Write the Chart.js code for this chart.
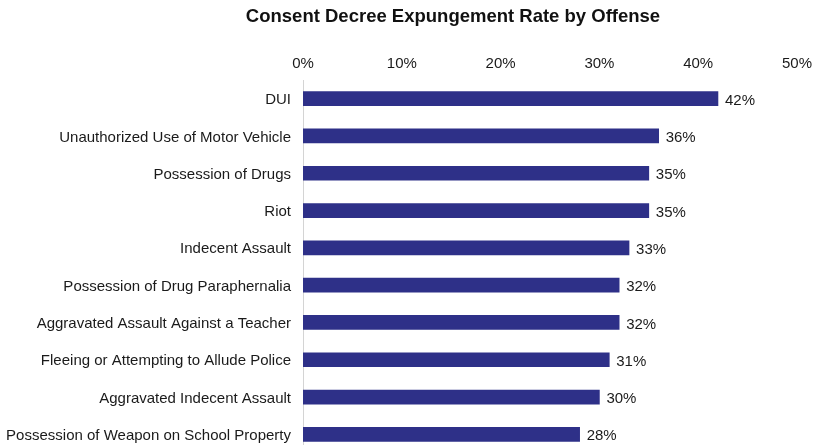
<!DOCTYPE html>
<html>
<head>
<meta charset="utf-8">
<script src="https://cdn.jsdelivr.net/npm/chart.js@4/dist/chart.umd.min.js"></script>
<style>
  html, body { margin: 0; padding: 0; background: #fff; overflow: hidden; }
  #c { display: block; }
</style>
</head>
<body>
<canvas id="c" width="814" height="460"></canvas>
<script>
// Offense categories, top to bottom
const offenses = [
  "DUI",
  "Unauthorized Use of Motor Vehicle",
  "Possession of Drugs",
  "Riot",
  "Indecent Assault",
  "Possession of Drug Paraphernalia",
  "Aggravated Assault Against a Teacher",
  "Fleeing or Attempting to Allude Police",
  "Aggravated Indecent Assault",
  "Possession of Weapon on School Property"
];
// Expungement rate (%) per offense
const expungementRate = [42, 36, 35, 35, 33, 32, 32, 31, 30, 28];
// Axis ticks (%)
const rateTicks = [0, 10, 20, 30, 40, 50];

const chartTitle = "Consent Decree Expungement Rate by Offense";
const FONT = "'Liberation Sans', Arial, sans-serif";

// Title drawn centred over the chart
const titlePlugin = {
  id: 'titleText',
  afterDraw(chart) {
    const ctx = chart.ctx;
    ctx.save();
    ctx.font = "bold 18.5px " + FONT;
    ctx.fillStyle = "#111";
    ctx.textAlign = "center";
    ctx.textBaseline = "middle";
    ctx.fillText(chartTitle, 453, 17);
    ctx.restore();
  }
};

// Percentage labels just past the end of each bar
const valueLabels = {
  id: 'valueLabels',
  afterDatasetsDraw(chart) {
    const ctx = chart.ctx;
    const meta = chart.getDatasetMeta(0);
    ctx.save();
    ctx.font = "15px " + FONT;
    ctx.fillStyle = "#1a1a1a";
    ctx.textAlign = "left";
    ctx.textBaseline = "middle";
    meta.data.forEach((bar, i) => {
      ctx.fillText(expungementRate[i] + "%", bar.x + 7, bar.y + 2);
    });
    ctx.restore();
  }
};

new Chart(document.getElementById('c'), {
  type: 'bar',
  data: {
    labels: offenses,
    datasets: [{
      data: expungementRate,
      backgroundColor: '#2E3088',
      borderWidth: 0,
      barThickness: 14
    }]
  },
  options: {
    indexAxis: 'y',
    responsive: false,
    maintainAspectRatio: false,
    animation: false,
    layout: { padding: { left: 0, right: 0, top: 0, bottom: 7 } },
    plugins: {
      legend: { display: false },
      title: { display: false },
      tooltip: { enabled: false }
    },
    scales: {
      x: {
        position: 'top',
        min: 0,
        max: 50,
        afterBuildTicks(scale) {
          scale.ticks = rateTicks.map(v => ({ value: v }));
        },
        afterFit(scale) {
          scale.height = 80;
          scale.paddingLeft = 0;
          scale.paddingRight = 17;
        },
        grid: { display: false, drawTicks: false },
        border: { display: false },
        ticks: {
          color: '#1a1a1a',
          font: { family: FONT, size: 15 },
          padding: 7,
          maxRotation: 0,
          callback: v => v + '%'
        }
      },
      y: {
        afterFit(scale) {
          scale.width = 303;
          scale.paddingTop = 0;
          scale.paddingBottom = 0;
        },
        grid: { display: false, drawTicks: false },
        border: { display: true, color: '#d4d4d4', width: 1 },
        ticks: {
          color: '#1a1a1a',
          font: { family: FONT, size: 15 },
          padding: 12,
          labelOffset: 1.5
        }
      }
    }
  },
  plugins: [titlePlugin, valueLabels]
});
</script>
</body>
</html>
